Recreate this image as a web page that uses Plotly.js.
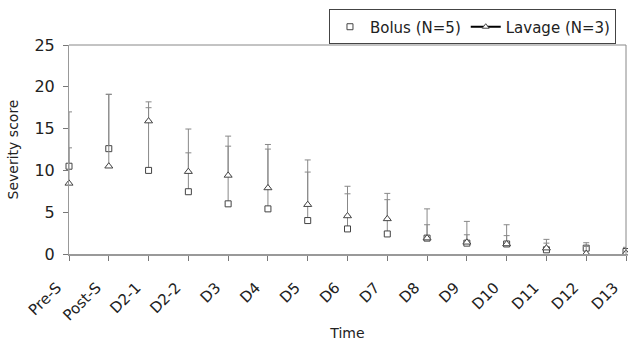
<!DOCTYPE html>
<html><head><meta charset="utf-8">
<script src="https://cdn.plot.ly/plotly-3.0.1.min.js"></script>
<style>html,body{margin:0;padding:0;background:#fff}</style>
</head><body><div id="chart" style="width:628px;height:341px"></div>
<script>
var categories = ["Pre-S","Post-S","D2-1","D2-2","D3","D4","D5","D6","D7","D8","D9","D10","D11","D12","D13"];
var bolusMean = [10.5,12.6,10.0,7.45,6.0,5.4,4.0,3.0,2.4,1.9,1.3,1.2,0.5,0.7,0.3];
var bolusErr  = [2.2,6.5,7.5,4.65,6.9,7.15,5.8,4.2,4.1,1.6,1.0,1.0,0.8,0.65,0.4];
var lavageMean = [8.45,10.5,15.9,9.85,9.4,7.9,5.9,4.55,4.2,1.9,1.4,1.2,0.7,0.05,0.1];
var lavageErr  = [8.55,8.6,2.3,5.1,4.7,5.2,5.35,3.55,3.05,3.5,2.5,2.3,1.05,0.85,0.7];

var traces = [
  {x: categories, y: bolusMean, name: "Bolus (N=5)", type: "scatter", mode: "markers",
   marker: {symbol: "square", size: 6, color: "#fff", line: {width: 1, color: "#444"}},
   error_y: {type: "data", array: bolusErr, symmetric: false, arrayminus: bolusErr.map(function(){return 0;}),
             color: "#888", thickness: 1, width: 3},
   cliponaxis: false},
  {x: categories, y: lavageMean, name: "Lavage (N=3)", type: "scatter", mode: "markers", showlegend: false,
   marker: {symbol: "triangle-up", size: 7, color: "#fff", line: {width: 1, color: "#444"}},
   error_y: {type: "data", array: lavageErr, symmetric: false, arrayminus: lavageErr.map(function(){return 0;}),
             color: "#888", thickness: 1, width: 3},
   cliponaxis: false},
  {x: [null], y: [null], name: "Lavage (N=3)", type: "scatter", mode: "lines+markers",
   line: {color: "#000", width: 2},
   marker: {symbol: "triangle-up", size: 6, color: "#fff", line: {width: 1, color: "#444"}}}
];

var font = "DejaVu Sans, Verdana, sans-serif";
var layout = {
  width: 628, height: 341,
  margin: {l: 69, r: 2, t: 45, b: 87},
  paper_bgcolor: "#fff", plot_bgcolor: "#fff",
  font: {family: font, color: "#222", size: 13},
  showlegend: true,
  legend: {orientation: "h", x: 0.982, xanchor: "right", y: 1.17, yanchor: "top",
           bordercolor: "#444", borderwidth: 1, font: {size: 15, family: font},
           itemwidth: 30, tracegroupgap: 0},
  xaxis: {type: "category", range: [0, 14], showgrid: false, zeroline: false,
          showline: true, linecolor: "#999", linewidth: 2, mirror: false,
          ticks: "outside", ticklen: 5, tickcolor: "#777", tickangle: -45,
          ticklabelshift: -12, ticklabelstandoff: 12,
          tickfont: {size: 15, family: font},
          title: {text: "Time", font: {size: 14, family: font}, standoff: 8}},
  yaxis: {range: [0, 25], dtick: 5, showgrid: false, zeroline: false,
          showline: true, linecolor: "#999", linewidth: 1,
          ticks: "outside", ticklen: 5, tickcolor: "#777", ticklabelstandoff: 5,
          tickfont: {size: 16, family: font},
          title: {text: "Severity score", font: {size: 14, family: font}, standoff: 12}},
  shapes: [
    {type: "line", xref: "paper", yref: "paper", x0: 0, x1: 1, y0: 1, y1: 1, line: {color: "#888", width: 1}},
    {type: "line", xref: "paper", yref: "paper", x0: 1, x1: 1, y0: 0, y1: 1, line: {color: "#888", width: 1}}
  ]
};
Plotly.newPlot("chart", traces, layout, {displayModeBar: false, staticPlot: true});
</script></body></html>
